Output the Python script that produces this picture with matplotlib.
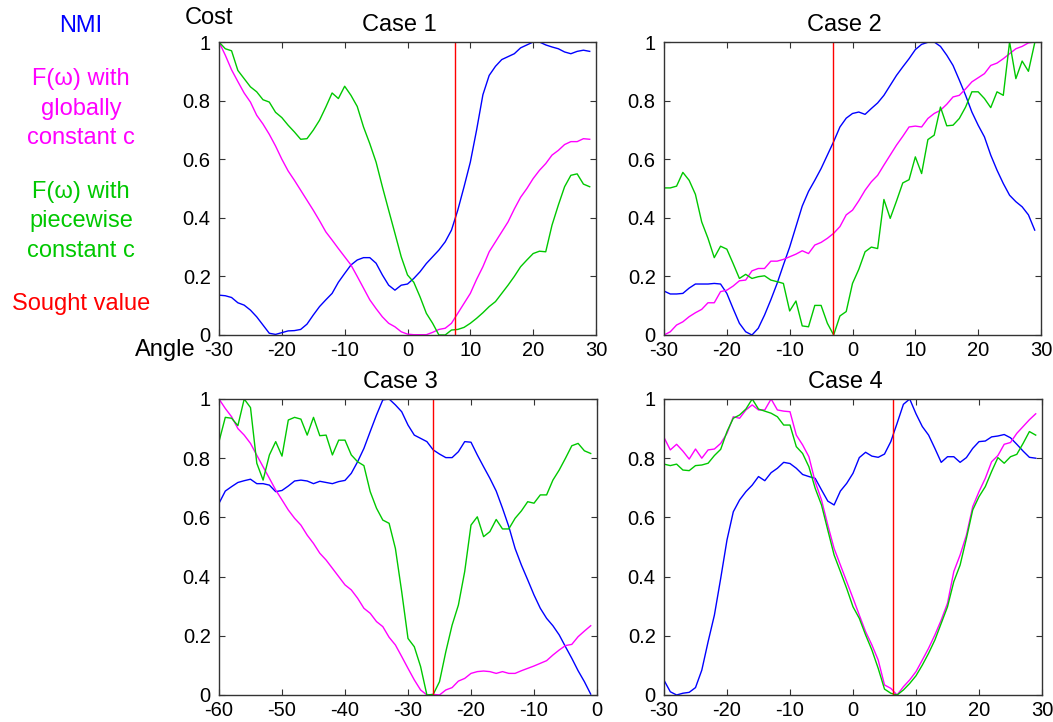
import numpy as np
import matplotlib
matplotlib.use("Agg")
import matplotlib.pyplot as plt

plt.rcParams['font.family'] = ['Liberation Sans', 'DejaVu Sans']

# ---- data -------------------------------------------------------------
angles_a = list(range(-30, 30))   # cases 1, 2, 4
angles_b = list(range(-60, 0))    # case 3

case1_nmi = [0.136, 0.134, 0.128, 0.11, 0.102, 0.085, 0.062, 0.034, 0.006, 0.002,
             0.008, 0.014, 0.015, 0.019, 0.037, 0.068, 0.097, 0.12, 0.142, 0.18,
             0.21, 0.239, 0.256, 0.264, 0.264, 0.245, 0.205, 0.17, 0.153, 0.17,
             0.174, 0.193, 0.216, 0.244, 0.267, 0.29, 0.318, 0.358, 0.426, 0.506,
             0.59, 0.70, 0.82, 0.886, 0.917, 0.94, 0.95, 0.96, 0.98, 0.99,
             1.0, 1.0, 0.99, 0.983, 0.977, 0.966, 0.96, 0.968, 0.972, 0.968]
case1_global = [1.0, 0.955, 0.905, 0.865, 0.826, 0.795, 0.75, 0.72, 0.685, 0.645,
                0.60, 0.56, 0.528, 0.494, 0.46, 0.426, 0.39, 0.352, 0.324, 0.295,
                0.267, 0.239, 0.2, 0.16, 0.12, 0.09, 0.062, 0.04, 0.028, 0.011,
                0.003, 0.001, 0.001, 0.001, 0.009, 0.019, 0.023, 0.04, 0.074, 0.108,
                0.142, 0.19, 0.233, 0.284, 0.318, 0.352, 0.386, 0.43, 0.47, 0.5,
                0.534, 0.562, 0.585, 0.614, 0.63, 0.65, 0.66, 0.66, 0.67, 0.668]
case1_piece = [1.0, 0.977, 0.97, 0.903, 0.875, 0.847, 0.83, 0.803, 0.795, 0.76,
               0.742, 0.716, 0.693, 0.668, 0.67, 0.699, 0.733, 0.778, 0.826, 0.807,
               0.849, 0.818, 0.78, 0.71, 0.653, 0.59, 0.506, 0.426, 0.347, 0.267,
               0.205, 0.18, 0.13, 0.074, 0.04, 0.0, 0.0, 0.017, 0.019, 0.026,
               0.04, 0.057, 0.076, 0.097, 0.114, 0.142, 0.17, 0.2, 0.233, 0.256,
               0.278, 0.286, 0.284, 0.375, 0.443, 0.506, 0.545, 0.55, 0.515, 0.506]
case1_sought = 7.6

case2_nmi = [0.15, 0.14, 0.14, 0.142, 0.16, 0.174, 0.174, 0.174, 0.176, 0.174,
             0.142, 0.09, 0.04, 0.011, 0.0, 0.023, 0.068, 0.12, 0.176, 0.239,
             0.30, 0.37, 0.44, 0.49, 0.528, 0.568, 0.614, 0.66, 0.71, 0.74,
             0.756, 0.761, 0.753, 0.773, 0.792, 0.818, 0.852, 0.886, 0.915, 0.943,
             0.974, 0.992, 0.999, 1.0, 0.985, 0.955, 0.92, 0.87, 0.818, 0.761,
             0.716, 0.676, 0.614, 0.5625, 0.517, 0.477, 0.455, 0.4375, 0.41, 0.358]
case2_global = [0.0, 0.011, 0.034, 0.045, 0.0625, 0.076, 0.0875, 0.11, 0.11, 0.148,
                0.153, 0.167, 0.185, 0.1875, 0.219, 0.227, 0.227, 0.252, 0.252, 0.258,
                0.267, 0.276, 0.2875, 0.278, 0.307, 0.316, 0.33, 0.347, 0.37, 0.41,
                0.426, 0.458, 0.494, 0.523, 0.545, 0.58, 0.614, 0.648, 0.678, 0.71,
                0.713, 0.71, 0.739, 0.756, 0.767, 0.7875, 0.8125, 0.818, 0.84, 0.864,
                0.878, 0.892, 0.92, 0.928, 0.943, 0.96, 0.977, 0.985, 0.997, 1.0]
case2_piece = [0.502, 0.502, 0.508, 0.555, 0.528, 0.48, 0.386, 0.33, 0.264, 0.303,
               0.293, 0.244, 0.193, 0.207, 0.193, 0.199, 0.202, 0.1875, 0.182, 0.176,
               0.082, 0.116, 0.031, 0.028, 0.101, 0.101, 0.04, 0.0, 0.065, 0.08,
               0.176, 0.224, 0.284, 0.30, 0.295, 0.4625, 0.398, 0.457, 0.519, 0.53,
               0.608, 0.551, 0.667, 0.682, 0.778, 0.714, 0.716, 0.739, 0.778, 0.83,
               0.83, 0.807, 0.776, 0.83, 0.818, 1.0, 0.875, 0.935, 0.90, 0.997]
case2_sought = -3.1

case3_nmi = [0.6475, 0.689, 0.704, 0.718, 0.724, 0.729, 0.714, 0.714, 0.709, 0.687,
             0.691, 0.706, 0.723, 0.726, 0.723, 0.714, 0.722, 0.718, 0.714, 0.721,
             0.725, 0.749, 0.788, 0.833, 0.89, 0.946, 0.997, 1.0, 0.98, 0.957,
             0.912, 0.878, 0.867, 0.856, 0.828, 0.814, 0.802, 0.802, 0.822, 0.856,
             0.854, 0.811, 0.771, 0.732, 0.689, 0.631, 0.569, 0.495, 0.439, 0.389,
             0.338, 0.293, 0.259, 0.234, 0.203, 0.163, 0.124, 0.082, 0.045, 0.003]
case3_global = [1.0, 0.968, 0.94, 0.90, 0.878, 0.85, 0.81, 0.771, 0.732, 0.6925,
                0.659, 0.625, 0.597, 0.574, 0.54, 0.512, 0.479, 0.456, 0.428, 0.40,
                0.372, 0.355, 0.327, 0.293, 0.276, 0.248, 0.231, 0.195, 0.169, 0.13,
                0.09, 0.051, 0.017, 0.0, 0.002, 0.0, 0.017, 0.025, 0.047, 0.056,
                0.073, 0.079, 0.081, 0.079, 0.073, 0.079, 0.073, 0.073, 0.082, 0.09,
                0.098, 0.107, 0.116, 0.135, 0.152, 0.167, 0.171, 0.197, 0.216, 0.234]
case3_piece = [0.856, 0.938, 0.935, 0.91, 1.0, 0.971, 0.783, 0.726, 0.811, 0.856,
               0.807, 0.929, 0.938, 0.932, 0.878, 0.938, 0.876, 0.878, 0.811, 0.861,
               0.861, 0.811, 0.788, 0.775, 0.687, 0.631, 0.591, 0.58, 0.495, 0.349,
               0.191, 0.163, 0.096, 0.0, 0.002, 0.045, 0.146, 0.236, 0.304, 0.417,
               0.574, 0.602, 0.535, 0.552, 0.593, 0.561, 0.561, 0.597, 0.622, 0.653,
               0.648, 0.676, 0.676, 0.726, 0.76, 0.80, 0.842, 0.85, 0.825, 0.816]
case3_sought = -26.0

case4_nmi = [0.05, 0.011, 0.0, 0.006, 0.009, 0.025, 0.084, 0.18, 0.27, 0.394,
             0.524, 0.619, 0.659, 0.687, 0.709, 0.738, 0.724, 0.751, 0.766, 0.786,
             0.782, 0.766, 0.745, 0.738, 0.732, 0.693, 0.655, 0.642, 0.689, 0.715,
             0.749, 0.802, 0.82, 0.807, 0.803, 0.814, 0.856, 0.918, 0.982, 1.0,
             0.95, 0.907, 0.878, 0.833, 0.786, 0.805, 0.805, 0.786, 0.802, 0.833,
             0.856, 0.858, 0.872, 0.875, 0.88, 0.869, 0.847, 0.824, 0.803, 0.80]
case4_global = [0.87, 0.828, 0.847, 0.824, 0.797, 0.831, 0.80, 0.828, 0.831, 0.85,
                0.884, 0.94, 0.935, 0.963, 0.98, 0.963, 0.963, 1.0, 0.963, 0.959,
                0.957, 0.878, 0.845, 0.805, 0.72, 0.659, 0.574, 0.495, 0.439, 0.383,
                0.327, 0.27, 0.214, 0.169, 0.118, 0.034, 0.0225, 0.0, 0.028, 0.051,
                0.079, 0.118, 0.158, 0.203, 0.253, 0.31, 0.417, 0.473, 0.54, 0.636,
                0.687, 0.732, 0.788, 0.809, 0.847, 0.853, 0.884, 0.907, 0.93, 0.95]
case4_piece = [0.78, 0.775, 0.78, 0.76, 0.758, 0.775, 0.777, 0.783, 0.809, 0.83,
               0.89, 0.935, 0.946, 0.966, 1.0, 0.966, 0.959, 0.952, 0.94, 0.912,
               0.912, 0.839, 0.816, 0.771, 0.698, 0.642, 0.557, 0.473, 0.417, 0.36,
               0.298, 0.259, 0.203, 0.152, 0.09, 0.02, 0.006, 0.0, 0.017, 0.039,
               0.065, 0.101, 0.141, 0.186, 0.242, 0.298, 0.383, 0.439, 0.529, 0.625,
               0.67, 0.704, 0.755, 0.802, 0.783, 0.805, 0.813, 0.85, 0.89, 0.878]
case4_sought = 6.4

titles = ["Case 1", "Case 2", "Case 3", "Case 4"]
ytick_vals = [0, 0.2, 0.4, 0.6, 0.8, 1]
ytick_labels = ["0", "0.2", "0.4", "0.6", "0.8", "1"]

legend_lines = [("NMI", "#0000ff"),
                ("F(\u03c9) with\nglobally\nconstant c", "#ff00ff"),
                ("F(\u03c9) with\npiecewise\nconstant c", "#00c800"),
                ("Sought value", "#ff0000")]

C_NMI, C_GLOBAL, C_PIECE, C_SOUGHT = "#0000ff", "#ff00ff", "#00c800", "#ff0000"

# ---- figure -----------------------------------------------------------
W, H = 1053, 722
fig = plt.figure(figsize=(W / 100, H / 100), dpi=100)


def px_axes(left, top, right, bottom):
    return fig.add_axes([left / W, 1 - bottom / H, (right - left) / W, (bottom - top) / H])


panels = [
    (px_axes(219, 42, 596, 335), angles_a, case1_nmi, case1_global, case1_piece, case1_sought,
     (-30, 30), list(range(-30, 31, 10))),
    (px_axes(664, 42, 1041, 335), angles_a, case2_nmi, case2_global, case2_piece, case2_sought,
     (-30, 30), list(range(-30, 31, 10))),
    (px_axes(219, 399, 597, 695), angles_b, case3_nmi, case3_global, case3_piece, case3_sought,
     (-60, 0), list(range(-60, 1, 10))),
    (px_axes(664, 399, 1042, 695), angles_a, case4_nmi, case4_global, case4_piece, case4_sought,
     (-30, 30), list(range(-30, 31, 10))),
]

spine_col = "#333333"
for (ax, xs, nmi, glob, piece, sought, xlim, xticks), title in zip(panels, titles):
    ax.plot(xs, nmi, color=C_NMI, lw=1.0)
    ax.plot(xs, glob, color=C_GLOBAL, lw=1.0)
    ax.plot(xs, piece, color=C_PIECE, lw=1.0)
    ax.axvline(sought, color=C_SOUGHT, lw=1.0)
    ax.set_xlim(*xlim)
    ax.set_ylim(0, 1)
    ax.set_xticks(xticks)
    ax.set_xticklabels([str(t) for t in xticks])
    ax.set_yticks(ytick_vals)
    ax.set_yticklabels(ytick_labels)
    ax.tick_params(direction="in", top=True, right=True, length=4, width=0.8,
                   color=spine_col, labelsize=14.5, pad=4)
    ax.tick_params(axis="y", pad=6)
    for s in ax.spines.values():
        s.set_color(spine_col)
        s.set_linewidth(1.0)
    # title sits a little left of the axes centre
    ax_w_px = ax.get_position().width * W
    ax.text(0.5 - 8 / ax_w_px, 1.0 + 11 / (ax.get_position().height * H), title,
            transform=ax.transAxes, fontsize=17, ha="center", va="baseline")

# axis captions
fig.text(185 / W, 1 - 24 / H, "Cost", fontsize=17, ha="left", va="baseline")
fig.text(135 / W, 1 - 356 / H, "Angle", fontsize=17, ha="left", va="baseline")

# key on the left margin
line_h = 29.5
baselines = [32, 85, 198, 310]
for (txt, col), base in zip(legend_lines, baselines):
    for i, part in enumerate(txt.split("\n")):
        fig.text(81 / W, 1 - (base + i * line_h) / H, part, color=col, fontsize=17,
                 ha="center", va="baseline")

fig.savefig("out.png", dpi=100)
